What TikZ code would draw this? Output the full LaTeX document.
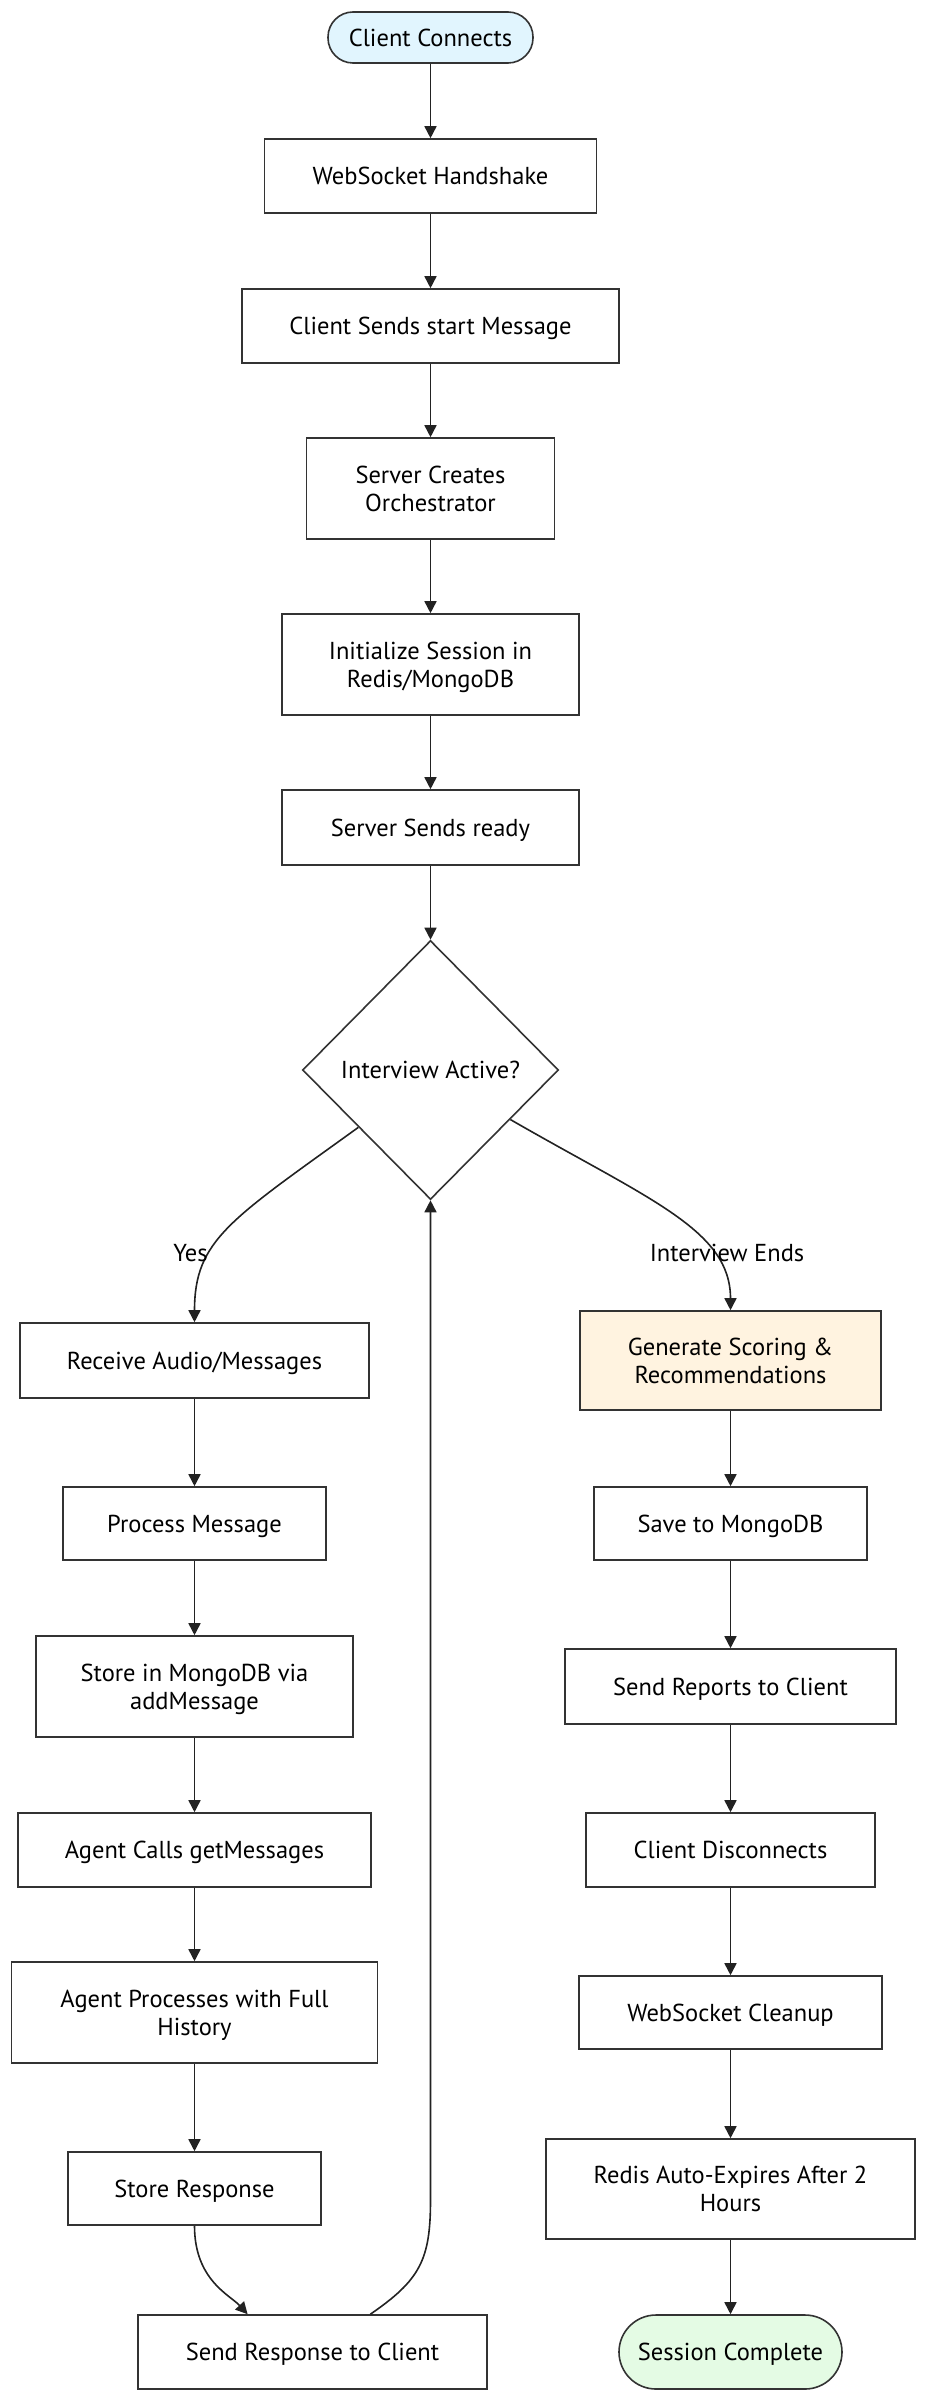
\documentclass[tikz,border=0pt]{standalone}
\usepackage{fontspec}
\setmainfont{PT Sans}
\usetikzlibrary{shapes.geometric,arrows.meta,calc}
\definecolor{edgec}{HTML}{222222}
\definecolor{borderc}{HTML}{333333}
\definecolor{startc}{HTML}{E1F5FE}
\definecolor{endc}{HTML}{E4FBE4}
\definecolor{genc}{HTML}{FFF3E0}
\tikzset{
  base/.style={draw=borderc,line width=1.6pt,inner sep=0pt,align=center,text depth=0pt,font=\fontsize{24.5}{28}\selectfont,text=black},
  box/.style={base,rectangle,fill=white},
  term/.style={base,rectangle,rounded corners=#1},
  dec/.style={base,diamond,fill=white},
  flow/.style={draw=edgec,line width=1.6pt,-{Triangle[length=12pt,width=12pt]}},
  elabel/.style={font=\fontsize{24.5}{28}\selectfont,text depth=0pt,text=black,inner sep=0pt}
}
\begin{document}
\begin{tikzpicture}[x=1pt,y=-1pt]
\useasboundingbox (0,0) rectangle (928,2400);
% main column
\node[term=25pt,fill=startc,minimum width=205pt,minimum height=51pt] (cc) at (430.5,37.5) {Client Connects};
\node[box,minimum width=332pt,minimum height=74pt] (ws) at (430.5,176) {WebSocket Handshake};
\node[box,minimum width=377pt,minimum height=74pt] (cs) at (430.5,326) {Client Sends start Message};
\node[box,minimum width=248pt,minimum height=101pt] (sc) at (430.5,488.5) {Server Creates\\Orchestrator};
\node[box,minimum width=297pt,minimum height=101pt] (init) at (430.5,664.5) {Initialize Session in\\Redis/MongoDB};
\node[box,minimum width=297pt,minimum height=75pt] (ready) at (430.5,827.5) {Server Sends ready};
\node[dec,minimum width=256pt,minimum height=259pt] (dia) at (430.5,1070) {};
\node[elabel] at (430.5,1070) {Interview Active?};
% left column
\node[box,minimum width=349pt,minimum height=75pt] (recv) at (194.5,1360.5) {Receive Audio/Messages};
\node[box,minimum width=263pt,minimum height=73pt] (proc) at (194.5,1523.5) {Process Message};
\node[box,minimum width=317pt,minimum height=101pt] (store) at (194.5,1686.5) {Store in MongoDB via\\addMessage};
\node[box,minimum width=353pt,minimum height=74pt] (agc) at (194.5,1850) {Agent Calls getMessages};
\node[box,minimum width=366pt,minimum height=101pt] (agp) at (194.5,2012.5) {Agent Processes with Full\\History};
\node[box,minimum width=253pt,minimum height=73pt] (sresp) at (194.5,2188.5) {Store Response};
\node[box,minimum width=349pt,minimum height=74pt] (send) at (312.5,2352) {Send Response to Client};
% right column
\node[box,fill=genc,minimum width=301pt,minimum height=99pt] (gen) at (730.5,1360.5) {Generate Scoring \&\\Recommendations};
\node[box,minimum width=273pt,minimum height=73pt] (save) at (730.5,1523.5) {Save to MongoDB};
\node[box,minimum width=331pt,minimum height=75pt] (rep) at (730.5,1686.5) {Send Reports to Client};
\node[box,minimum width=289pt,minimum height=74pt] (disc) at (730.5,1850) {Client Disconnects};
\node[box,minimum width=303pt,minimum height=73pt] (clean) at (730.5,2012.5) {WebSocket Cleanup};
\node[box,minimum width=369pt,minimum height=100pt] (redis) at (730.5,2189) {Redis Auto-Expires After 2\\Hours};
\node[term=37pt,fill=endc,minimum width=223pt,minimum height=74pt] (done) at (730.5,2352) {Session Complete};
% edges
\draw[flow] (cc) -- (ws);
\draw[flow] (ws) -- (cs);
\draw[flow] (cs) -- (sc);
\draw[flow] (sc) -- (init);
\draw[flow] (init) -- (ready);
\draw[flow] (ready) -- (dia.north);
\coordinate (dl) at ($(dia.west)!0.44!(dia.south)$);
\coordinate (dr) at ($(dia.east)!0.38!(dia.south)$);
\draw[flow] (dl) .. controls (230,1220) and (194.5,1240) .. (recv.north);
\draw[flow] (dr) .. controls (650,1200) and (730.5,1230) .. (gen.north);
\node[elabel] at (190.5,1253) {Yes};
\node[elabel] at (727,1253) {Interview Ends};
\draw[flow] (recv) -- (proc);
\draw[flow] (proc) -- (store);
\draw[flow] (store) -- (agc);
\draw[flow] (agc) -- (agp);
\draw[flow] (agp) -- (sresp);
\coordinate (sendin) at ($(send.north west)!0.315!(send.north east)$);
\coordinate (sendout) at ($(send.north west)!0.665!(send.north east)$);
\draw[flow] (sresp.south) .. controls (194.5,2280) and (230,2295) .. (sendin);
\draw[flow] (sendout) .. controls (420,2280) and (430.5,2260) .. (430.5,2200) -- (dia.south);
\draw[flow] (gen) -- (save);
\draw[flow] (save) -- (rep);
\draw[flow] (rep) -- (disc);
\draw[flow] (disc) -- (clean);
\draw[flow] (clean) -- (redis);
\draw[flow] (redis) -- (done);
\end{tikzpicture}
\end{document}
